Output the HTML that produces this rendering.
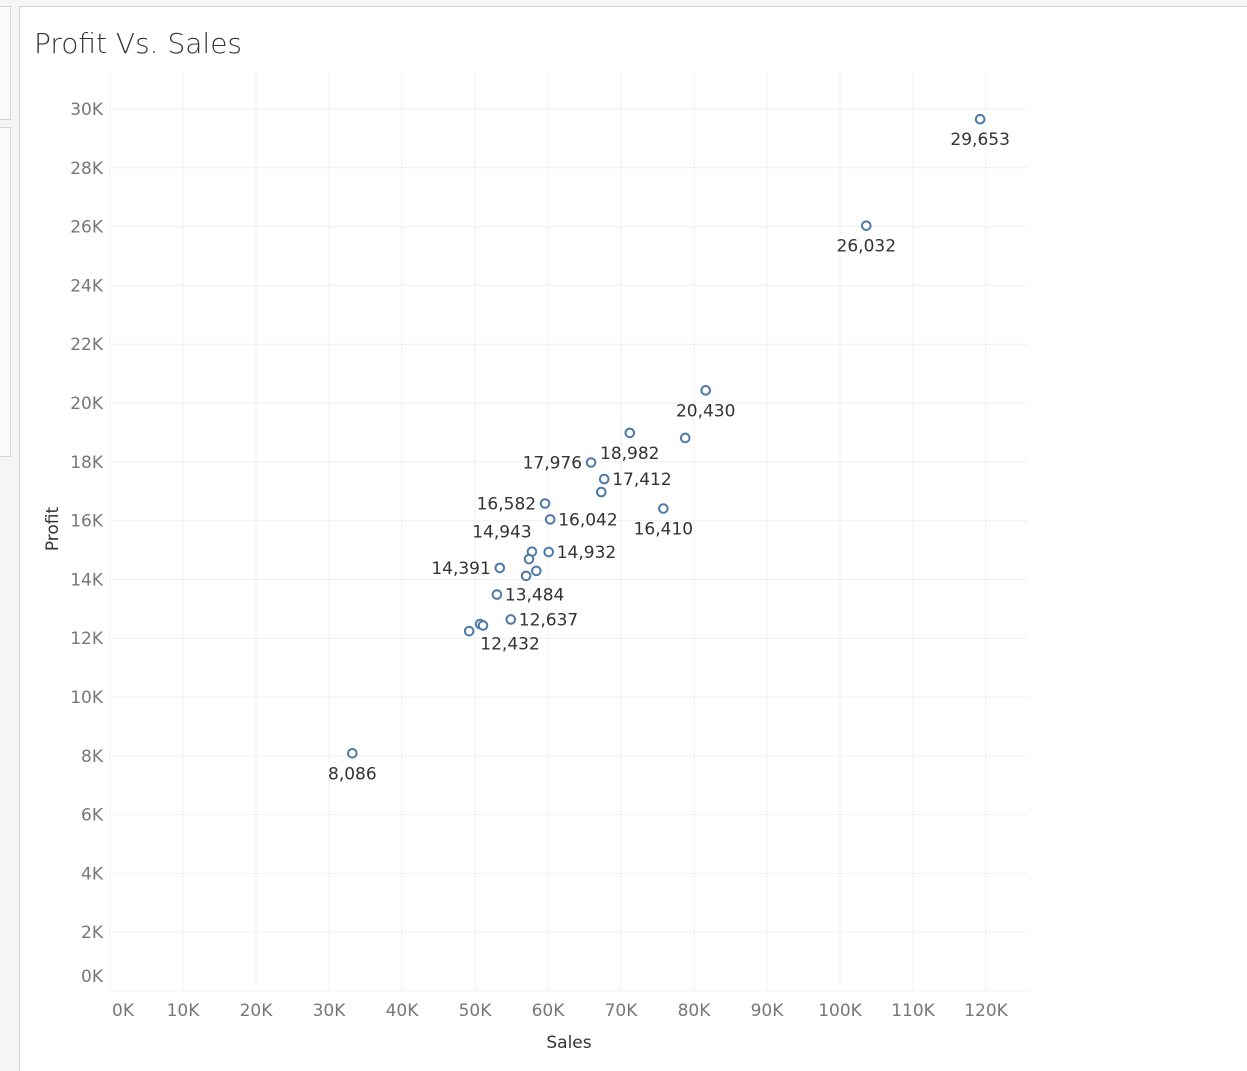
<!DOCTYPE html>
<html><head><meta charset="utf-8">
<style>
body{margin:0;width:1247px;height:1070px;background:#f5f5f5;overflow:hidden;font-family:"DejaVu Sans","Liberation Sans",sans-serif;}
#left{position:absolute;left:0;top:0;width:19px;height:1070px;background:#f5f5f5;}
.lb{position:absolute;left:0;width:10px;background:#fafafa;border:1px solid #d4d4d4;border-left:none;}
#panel{position:absolute;left:19px;top:6px;width:1228px;height:1064px;background:#fff;border-left:1px solid #d4d4d4;border-top:1px solid #d4d4d4;}
svg text{font-family:"DejaVu Sans","Liberation Sans",sans-serif;}
</style></head><body>
<div id="left">
<div class="lb" style="top:6px;height:112px"></div>
<div class="lb" style="top:127px;height:328px"></div>
</div>
<div id="panel"></div>
<svg id="chart" width="1247" height="1070" style="position:absolute;left:0;top:0">
<text x="34" y="53" font-size="28" fill="#333" style="font-weight:200">Profit Vs. Sales</text>
<g id="grid"></g>
<g id="axes"></g>
<g id="marks"></g>
<text x="569" y="1048" font-size="17" fill="#333" text-anchor="middle">Sales</text>
<text transform="translate(58,529) rotate(-90)" font-size="17" fill="#333" text-anchor="middle">Profit</text>
</svg>
<script>
const sales  = [119.2,103.6,81.6,78.8,71.2,65.9,67.7,67.3,75.8,59.6,60.3,57.8,60.1,57.4,58.4,57.0,53.4,53.0,54.9,50.7,51.1,49.2,33.2];
const profit = [29653,26032,20430,18810,18982,17976,17412,16970,16410,16582,16042,14943,14932,14690,14290,14120,14391,13484,12637,12480,12432,12240,8086];
const labelSide = ["below","below","below","","above","left","right","","below","left","right","aboveleft","right","","","","left","right","right","","belowright","","below"];
const xTicks = [0,10,20,30,40,50,60,70,80,90,100,110,120];
const yTicks = [0,2,4,6,8,10,12,14,16,18,20,22,24,26,28,30];
const X = v => 110 + 7.3*v;
const Y = v => 991 - 29.4*v/1000;
const NS = "http://www.w3.org/2000/svg";
function mk(tag, attrs, parent, text){const e=document.createElementNS(NS,tag);for(const k in attrs)e.setAttribute(k,attrs[k]);if(text!==undefined)e.textContent=text;document.getElementById(parent).appendChild(e);return e;}
xTicks.forEach(t=>{
  const l=mk("line",{x1:X(t),x2:X(t),y1:72,y2:990,stroke:"#f0f0f0","stroke-width":1},"grid");
  
  
  const tx=mk("text",{x:Math.max(X(t),123),y:1016,"font-size":17,fill:"#777","text-anchor":"middle"},"axes",t+"K");
  
  
});
yTicks.forEach(t=>{
  const l=mk("line",{x1:110,x2:1028,y1:Y(t*1000),y2:Y(t*1000),stroke:"#f0f0f0","stroke-width":1},"grid");
  
  
  const ty=Math.min(Y(t*1000),976);
  const tx=mk("text",{x:103,y:ty+6,"font-size":17,fill:"#777","text-anchor":"end"},"axes",t+"K");
  
  
});
sales.forEach((s,i)=>{
  const cx=X(s), cy=Y(profit[i]);
  const c=mk("circle",{cx:cx,cy:cy,r:4.3,fill:"#fff",stroke:"#4e79a7","stroke-width":2},"marks");
  
  
  const side=labelSide[i]; if(!side) return;
  const txt=profit[i].toLocaleString("en-US");
  let a={x:cx,y:cy+26,"text-anchor":"middle"};
  if(side==="above") a={x:cx,y:cy+26,"text-anchor":"middle"};
  if(side==="left") a={x:cx-9,y:cy+6,"text-anchor":"end"};
  if(side==="right") a={x:cx+8,y:cy+6,"text-anchor":"start"};
  if(side==="aboveleft") a={x:cx-30,y:cy-14,"text-anchor":"middle"};
  if(side==="belowright") a={x:cx+27,y:cy+24,"text-anchor":"middle"};
  a["font-size"]=17;a.fill="#333";
  const t=mk("text",a,"marks",txt);
  
  
});
</script>
</body></html>
